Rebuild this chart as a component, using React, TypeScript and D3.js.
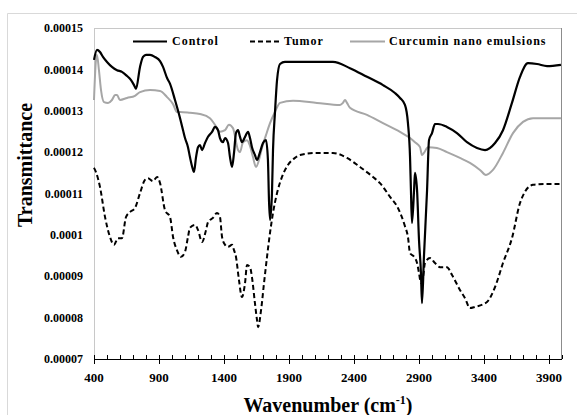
import React from "react";
import * as d3 from "d3";

// Wavenumber (cm-1) / transmittance pairs
const controlWn = [400, 423, 446, 469, 500, 538, 577, 615, 654, 685, 708, 723, 754, 777, 800, 831, 869, 908, 931, 962, 985, 1023, 1062, 1085, 1100, 1123, 1138, 1162, 1169, 1185, 1200, 1215, 1231, 1254, 1277, 1308, 1331, 1354, 1369, 1392, 1408, 1431, 1446, 1462, 1477, 1492, 1508, 1523, 1538, 1562, 1585, 1600, 1615, 1638, 1654, 1677, 1700, 1723, 1738, 1746, 1754, 1769, 1777, 1792, 1808, 1831, 1869, 1931, 2238, 2369, 2500, 2623, 2715, 2754, 2792, 2815, 2831, 2838, 2846, 2862, 2869, 2885, 2900, 2915, 2923, 2938, 2962, 2977, 3000, 3023, 3046, 3115, 3192, 3269, 3346, 3408, 3485, 3546, 3615, 3677, 3738, 3808, 3885, 3992];
const controlT = [14.23, 14.47, 14.42, 14.30, 14.18, 14.06, 13.98, 13.94, 13.84, 13.74, 13.62, 13.53, 14.06, 14.30, 14.35, 14.35, 14.30, 14.20, 14.06, 13.79, 13.65, 13.26, 12.82, 12.53, 12.34, 12.12, 11.88, 11.57, 11.52, 11.88, 12.12, 12.17, 12.05, 12.22, 12.37, 12.49, 12.61, 12.53, 12.34, 12.24, 12.34, 12.22, 11.88, 11.64, 11.98, 12.46, 12.53, 12.37, 12.24, 12.37, 12.49, 12.34, 12.12, 11.93, 11.81, 12.00, 12.22, 12.29, 11.81, 10.84, 10.36, 11.01, 12.05, 12.95, 13.74, 14.13, 14.18, 14.18, 14.18, 14.03, 13.82, 13.62, 13.43, 13.31, 13.14, 12.70, 11.88, 11.08, 10.29, 11.08, 11.50, 11.08, 9.88, 9.08, 8.35, 9.47, 11.08, 12.29, 12.46, 12.68, 12.68, 12.61, 12.46, 12.24, 12.10, 12.05, 12.22, 12.53, 13.19, 13.82, 14.15, 14.13, 14.08, 14.11];

const tumorWn = [400, 415, 446, 485, 523, 554, 585, 615, 646, 677, 715, 754, 792, 815, 854, 885, 908, 946, 985, 1008, 1038, 1069, 1100, 1123, 1138, 1177, 1200, 1231, 1262, 1277, 1315, 1346, 1369, 1385, 1408, 1431, 1462, 1477, 1492, 1515, 1538, 1562, 1577, 1600, 1615, 1638, 1654, 1662, 1685, 1708, 1731, 1754, 1777, 1808, 1846, 1892, 1946, 1985, 2115, 2238, 2346, 2446, 2546, 2600, 2677, 2738, 2792, 2815, 2831, 2862, 2885, 2900, 2915, 2931, 2946, 2985, 3023, 3062, 3115, 3154, 3215, 3254, 3292, 3331, 3423, 3485, 3546, 3615, 3677, 3715, 3777, 3885, 3992];
const tumorT = [11.62, 11.52, 11.16, 10.43, 9.95, 9.76, 9.92, 9.92, 10.43, 10.55, 10.65, 11.01, 11.33, 11.37, 11.30, 11.40, 11.25, 10.60, 10.43, 9.95, 9.63, 9.47, 9.59, 9.95, 10.17, 10.24, 10.12, 9.83, 10.12, 10.31, 10.41, 10.53, 10.43, 9.95, 9.76, 9.71, 9.76, 9.63, 9.47, 8.91, 8.50, 8.84, 9.27, 9.22, 8.98, 8.35, 7.94, 7.77, 8.18, 8.84, 9.47, 10.05, 10.53, 11.01, 11.40, 11.69, 11.86, 11.93, 11.98, 11.98, 11.86, 11.64, 11.40, 11.25, 10.92, 10.65, 10.21, 9.95, 9.56, 9.47, 9.32, 9.08, 8.84, 8.98, 9.32, 9.44, 9.32, 9.22, 9.22, 9.03, 8.67, 8.47, 8.23, 8.26, 8.38, 8.74, 9.32, 9.92, 10.77, 11.04, 11.21, 11.23, 11.23];

const curcuminWn = [400, 415, 423, 438, 454, 477, 508, 538, 562, 577, 600, 654, 715, 754, 831, 908, 962, 1008, 1038, 1062, 1138, 1215, 1292, 1331, 1369, 1408, 1438, 1469, 1508, 1523, 1546, 1577, 1600, 1623, 1646, 1669, 1692, 1723, 1754, 1792, 1831, 1931, 2115, 2292, 2315, 2331, 2346, 2369, 2500, 2623, 2754, 2831, 2869, 2908, 2923, 2938, 2969, 3038, 3115, 3215, 3292, 3369, 3415, 3469, 3546, 3623, 3700, 3777, 3885, 3992];
const curcuminT = [13.26, 14.23, 14.35, 13.98, 13.50, 13.21, 13.19, 13.26, 13.38, 13.38, 13.26, 13.31, 13.36, 13.45, 13.50, 13.48, 13.33, 13.16, 12.97, 12.97, 12.95, 12.92, 12.82, 12.66, 12.49, 12.53, 12.66, 12.58, 12.05, 12.00, 12.24, 12.29, 12.15, 11.88, 11.64, 11.81, 12.10, 12.41, 12.70, 12.97, 13.19, 13.24, 13.19, 13.14, 13.19, 13.26, 13.19, 13.07, 12.90, 12.70, 12.49, 12.34, 12.24, 12.12, 11.93, 11.98, 12.12, 12.10, 12.00, 11.86, 11.74, 11.57, 11.45, 11.57, 11.98, 12.46, 12.73, 12.82, 12.82, 12.82];

const SCALE = 1e-5; // values above are in units of 1e-5

const xTicks = [400, 900, 1400, 1900, 2400, 2900, 3400, 3900];
const yTicks = [0.00007, 0.00008, 0.00009, 0.0001, 0.00011, 0.00012, 0.00013, 0.00014, 0.00015];
const yTickLabels = ["0.00007", "0.00008", "0.00009", "0.0001", "0.00011", "0.00012", "0.00013", "0.00014", "0.00015"];

const seriesNames = ["Control", "Tumor", "Curcumin nano emulsions"];

const W = 577;
const H = 415;
const left = 94;
const right = 562;
const top = 28;
const bottom = 359;
const FONT = "'Liberation Serif', 'Times New Roman', serif";

export default function App() {
  const x = d3.scaleLinear().domain([400, 4000]).range([left, right]);
  const y = d3.scaleLinear().domain([0.00007, 0.00015]).range([bottom, top]);

  const mk = (wn: number[], t: number[]) => wn.map((w, i) => [w, t[i] * SCALE] as [number, number]);
  const line = d3
    .line<[number, number]>()
    .x((d) => x(d[0]))
    .y((d) => y(d[1]))
    .curve(d3.curveMonotoneX);

  const control = mk(controlWn, controlT);
  const tumor = mk(tumorWn, tumorT);
  const curcumin = mk(curcuminWn, curcuminT);

  const minor = d3.range(400, 4001, 100).filter((v) => (v - 400) % 500 !== 0);

  return (
    <svg width={W} height={H} style={{ position: "absolute", left: 0, top: 0 }}>
      <rect x={0} y={0} width={W} height={H} fill="#fff" />
      {/* outer chart frame */}
      <line x1={7.5} y1={13.5} x2={7.5} y2={H} stroke="#d9d9d9" />
      <line x1={7.5} y1={13.5} x2={W} y2={13.5} stroke="#d9d9d9" />
      {/* plot frame */}
      <line x1={left + 0.5} y1={top} x2={left + 0.5} y2={bottom} stroke="#c8c8c8" />
      <line x1={left} y1={top + 0.5} x2={right} y2={top + 0.5} stroke="#c8c8c8" />
      <line x1={right - 0.5} y1={top} x2={right - 0.5} y2={bottom} stroke="#8c8c8c" />

      {/* series */}
      <path d={line(curcumin) || ""} fill="none" stroke="#a6a6a6" strokeWidth={2} strokeLinejoin="round" />
      <path d={line(tumor) || ""} fill="none" stroke="#000" strokeWidth={2} strokeDasharray="5,3" />
      <path d={line(control) || ""} fill="none" stroke="#000" strokeWidth={2.2} strokeLinejoin="round" />

      {/* x axis */}
      <line x1={left} y1={bottom + 0.5} x2={right} y2={bottom + 0.5} stroke="#000" strokeWidth={1} />
      {xTicks.map((t) => (
        <g key={t}>
          <line x1={x(t) + 0.5} x2={x(t) + 0.5} y1={bottom - 4} y2={bottom + 5} stroke="#000" />
          <text x={x(t)} y={382} textAnchor="middle" fontFamily={FONT} fontWeight="bold" fontSize={13}>
            {t}
          </text>
        </g>
      ))}
      {minor.map((t) => (
        <line key={t} x1={x(t) + 0.5} x2={x(t) + 0.5} y1={bottom - 4} y2={bottom} stroke="#000" />
      ))}

      {/* y tick labels */}
      {yTicks.map((t, i) => (
        <text key={t} x={83} y={y(t)} dy="0.35em" textAnchor="end" fontFamily={FONT} fontWeight="bold" fontSize={12}>
          {yTickLabels[i]}
        </text>
      ))}

      {/* axis titles */}
      <text
        transform={`translate(32,165) rotate(-90)`}
        textAnchor="middle"
        fontFamily={FONT}
        fontWeight="bold"
        fontSize={20}
      >
        Transmittance
      </text>
      <text x={328} y={412} textAnchor="middle" fontFamily={FONT} fontWeight="bold" fontSize={20}>
        Wavenumber (cm
        <tspan fontSize={12} dy={-8}>-1</tspan>
        <tspan dy={8}>)</tspan>
      </text>

      {/* legend */}
      <g fontFamily={FONT} fontWeight="bold" fontSize={12} letterSpacing={1}>
        <line x1={133} x2={167} y1={41.5} y2={41.5} stroke="#000" strokeWidth={2.2} />
        <text x={172} y={45}>{seriesNames[0]}</text>
        <line x1={250} x2={282} y1={41.5} y2={41.5} stroke="#000" strokeWidth={2} strokeDasharray="5,3" />
        <text x={284} y={45}>{seriesNames[1]}</text>
        <line x1={350} x2={385} y1={41.5} y2={41.5} stroke="#a6a6a6" strokeWidth={2} />
        <text x={389} y={45}>{seriesNames[2]}</text>
      </g>
    </svg>
  );
}
